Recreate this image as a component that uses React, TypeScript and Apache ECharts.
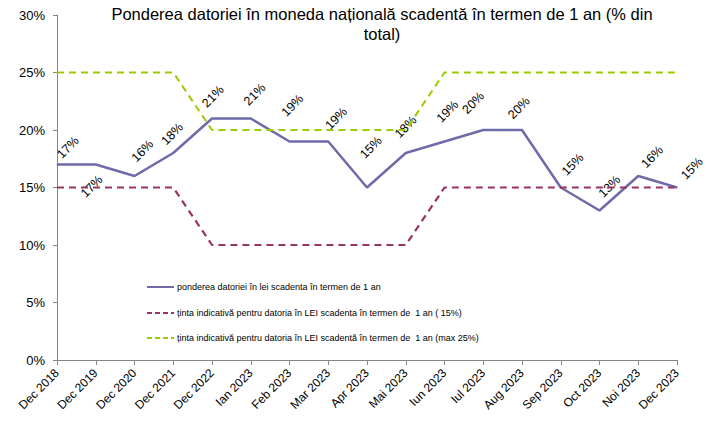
import React, { useEffect, useRef } from "react";
import * as echarts from "echarts";

const titleText = "Ponderea datoriei în moneda națională scadentă în termen de 1 an (% din\ntotal)";

const categories = [
  "Dec 2018", "Dec 2019", "Dec 2020", "Dec 2021", "Dec 2022", "Ian 2023", "Feb 2023",
  "Mar 2023", "Apr 2023", "Mai 2023", "Iun 2023", "Iul 2023", "Aug 2023", "Sep 2023",
  "Oct 2023", "Noi 2023", "Dec 2023",
];

const seriesNames = [
  "ponderea datoriei în lei scadenta în termen de 1 an",
  "ținta indicativă pentru datoria în LEI scadenta în termen de  1 an ( 15%)",
  "ținta indicativă pentru datoria în LEI scadentă în termen de  1 an (max 25%)",
];

const ponderea = [17, 17, 16, 18, 21, 21, 19, 19, 15, 18, 19, 20, 20, 15, 13, 16, 15];
const tinta15 = [15, 15, 15, 15, 10, 10, 10, 10, 10, 10, 15, 15, 15, 15, 15, 15, 15];
const tinta25 = [25, 25, 25, 25, 20, 20, 20, 20, 20, 20, 25, 25, 25, 25, 25, 25, 25];

const yTicks = [0, 5, 10, 15, 20, 25, 30];

// label placement (style): offset of each rotated label from its point
const labelOffsets = [
  [11, -17], [-4, 22], [8, -25], [-1, -19], [1, -22], [4, -24], [3, -36],
  [8, -23], [4, -40], [0, -26], [3, -30], [-10, -27], [-3, -22], [12, -23],
  [10, -24], [14, -19], [15, -19],
];

const colors = ["#6E6BA8", "#993366", "#99CC00"];

export default function App() {
  const ref = useRef<HTMLDivElement>(null);

  useEffect(() => {
    if (!ref.current) return;
    const chart = echarts.init(ref.current, null, { renderer: "svg" });
    const font = "Liberation Sans, Arial, sans-serif";

    const mainData = ponderea.map((v, i) => ({
      value: v,
      label: {
        position: [labelOffsets[i][0] + 0.5, labelOffsets[i][1] + 0.5],
      },
    }));

    const legendY = [287, 313, 338];
    const legendGraphics: any[] = [];
    seriesNames.forEach((name, i) => {
      legendGraphics.push({
        type: "line",
        shape: { x1: 147, y1: legendY[i], x2: 174, y2: legendY[i] },
        style: {
          stroke: colors[i],
          lineWidth: 2,
          lineDash: i === 0 ? null : [5, 3],
        },
      });
      legendGraphics.push({
        type: "text",
        x: 177,
        y: legendY[i],
        style: {
          text: name,
          fill: "#000",
          font: `9px ${font}`,
          verticalAlign: "middle",
          align: "left",
        },
      });
    });

    chart.setOption({
      animation: false,
      title: {
        text: titleText,
        left: 377,
        top: -1,
        textAlign: "center",
        textStyle: {
          fontFamily: font,
          fontSize: 16.5,
          fontWeight: "normal",
          color: "#000",
          lineHeight: 20,
        },
      },
      grid: { left: 57, right: 41, top: 15, bottom: 83, containLabel: false },
      xAxis: {
        type: "category",
        data: categories,
        boundaryGap: false,
        axisLine: { lineStyle: { color: "#868686", width: 1 } },
        axisTick: { show: true, alignWithLabel: true, length: 5, lineStyle: { color: "#868686" } },
        axisLabel: {
          rotate: 45,
          interval: 0,
          fontFamily: font,
          fontSize: 12,
          color: "#000",
          margin: 11,
        },
        splitLine: { show: false },
      },
      yAxis: {
        type: "value",
        min: yTicks[0],
        max: yTicks[yTicks.length - 1],
        interval: 5,
        axisLine: { show: true, lineStyle: { color: "#868686", width: 1 } },
        axisTick: { show: true, length: 4, lineStyle: { color: "#868686" } },
        axisLabel: {
          formatter: "{value}%",
          fontFamily: font,
          fontSize: 13,
          color: "#000",
          margin: 12,
        },
        splitLine: { show: false },
      },
      series: [
        {
          name: seriesNames[0],
          type: "line",
          data: mainData,
          symbol: "circle",
          symbolSize: 1,
          itemStyle: { color: colors[0] },
          lineStyle: { color: colors[0], width: 2.5 },
          label: {
            show: true,
            formatter: "{c}%",
            rotate: 45,
            align: "center",
            verticalAlign: "middle",
            fontFamily: font,
            fontSize: 12.5,
            color: "#000",
          },
          z: 2,
        },
        {
          name: seriesNames[1],
          type: "line",
          data: tinta15,
          symbol: "none",
          lineStyle: { color: colors[1], width: 2.2, type: [7, 5] },
          z: 3,
        },
        {
          name: seriesNames[2],
          type: "line",
          data: tinta25,
          symbol: "none",
          lineStyle: { color: colors[2], width: 2, type: [7, 5] },
          z: 3,
        },
      ],
      graphic: legendGraphics,
    });

    return () => chart.dispose();
  }, []);

  return <div ref={ref} style={{ width: 718, height: 443, margin: -8 }} />;
}
